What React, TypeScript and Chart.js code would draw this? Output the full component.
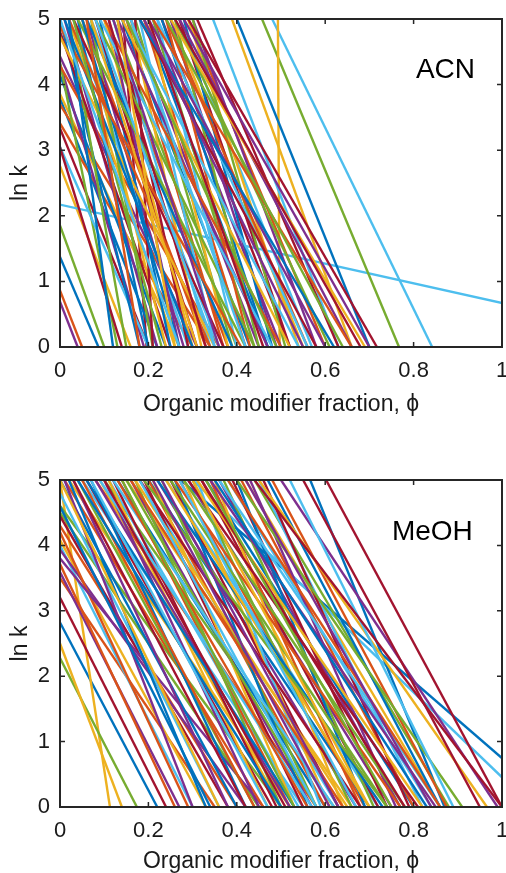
import React, { useEffect, useRef } from "react";
import { Chart, registerables } from "chart.js";

Chart.register(...registerables);

// MATLAB default colour order
const COLORS = ["#0072BD", "#D95319", "#EDB120", "#7E2F8E", "#77AC30", "#4DBEEE", "#A2142F"];

const xTicks = [0, 0.2, 0.4, 0.6, 0.8, 1];
const xTickLabels = ["0", "0.2", "0.4", "0.6", "0.8", "1"];
const yTicks = [0, 1, 2, 3, 4, 5];
const yTickLabels = ["0", "1", "2", "3", "4", "5"];

// ACN: phi where ln k = 5 and phi where ln k = 0 for each retention line
const acnPhiAt5 = [
  -0.23, -0.24, -0.13, -0.25, -0.17, -1.887, 0.143,
  -0.07, -0.14, -0.08, -0.04, 0.457, 0.48, -0.10,
  -0.05, -0.12, 0.493, -0.03, -0.02, -0.128, -0.09,
  0.0, -0.06, 0.02, 0.01, 0.02, 0.03, -0.01,
  0.04, 0.05, 0.05, 0.06, 0.07, 0.07, 0.08,
  0.09, 0.10, 0.10, 0.11, 0.12, 0.12, 0.13,
  0.14, 0.15, 0.16, 0.16, 0.17, 0.18, 0.17,
  0.19, 0.19, 0.20, 0.21, 0.21, 0.22, 0.23,
  0.23, 0.24, 0.25, 0.25, 0.26, 0.27, 0.27,
  0.28, 0.29, 0.29, 0.30, 0.30, 0.346, 0.31,
  0.40, 0.24, 0.389, 0.27, 0.26, 0.22, 0.29,
  0.06, 0.02, -0.02, 0.13, 0.08, 0.15, 0.18,
  0.01, 0.10, 0.14, 0.20, 0.04, 0.09, 0.03,
  0.05, -0.01, 0.07, 0.12, 0.03, 0.16, 0.11,
  0.18, 0.21, 0.25, 0.28, 0.15, 0.08, 0.20,
  0.02, 0.06, 0.13, 0.19, 0.24, 0.00, 0.26,
];
const acnPhiAt0 = [
  0.087, 0.05, 0.16, 0.04, 0.10, 1.447, 0.196,
  0.22, 0.30, 0.27, 0.31, 0.767, 0.842, 0.20,
  0.24, 0.34, 0.497, 0.19, 0.13, 0.20, 0.14,
  0.18, 0.36, 0.26, 0.22, 0.15, 0.29, 0.25,
  0.20, 0.33, 0.24, 0.28, 0.21, 0.36, 0.31,
  0.25, 0.38, 0.30, 0.27, 0.40, 0.34, 0.29,
  0.43, 0.37, 0.32, 0.45, 0.39, 0.35, 0.21,
  0.47, 0.42, 0.38, 0.50, 0.44, 0.40, 0.52,
  0.47, 0.43, 0.55, 0.49, 0.45, 0.57, 0.52,
  0.48, 0.60, 0.54, 0.58, 0.51, 0.63, 0.63,
  0.70, 0.56, 0.66, 0.66, 0.61, 0.56, 0.717,
  0.39, 0.34, 0.35, 0.47, 0.44, 0.54, 0.58,
  0.30, 0.50, 0.52, 0.60, 0.42, 0.48, 0.37,
  0.27, 0.41, 0.31, 0.36, 0.23, 0.42, 0.33,
  0.62, 0.66, 0.69, 0.70, 0.49, 0.35, 0.46,
  0.12, 0.18, 0.26, 0.55, 0.64, 0.27, 0.68,
];

// MeOH
const meohPhiAt5 = [
  -0.17, -0.15, 0.0, -0.106, -0.208, -0.075, -0.135,
  0.273, -0.065, -0.074, -0.114, -0.05, 0.30, -0.047,
  0.566, -0.055, -0.14, -0.145, -0.043, -0.015, 0.602,
  0.0, 0.01, 0.02, 0.03, 0.04, 0.05, 0.06,
  0.07, 0.08, 0.09, 0.10, 0.10, 0.11, 0.12,
  0.13, 0.14, 0.15, 0.16, 0.17, 0.18, 0.19,
  0.20, 0.20, 0.21, 0.22, 0.23, 0.24, 0.25,
  0.26, 0.27, 0.28, 0.29, 0.30, 0.31, 0.32,
  0.33, 0.34, 0.35, 0.36, 0.37, 0.38, 0.39,
  0.40, 0.41, 0.42, 0.43, 0.44, 0.45, 0.46,
  0.47, 0.48, 0.45, 0.50, 0.40, 0.52, 0.44,
  0.02, 0.05, 0.11, 0.08, 0.15, 0.12, 0.18,
  0.22, 0.26, 0.31, 0.34, 0.28, 0.36, 0.55,
  0.04, 0.16, 0.24, 0.01, 0.19, 0.09, 0.29,
  0.06, 0.13, 0.17, 0.21, 0.25, 0.27, 0.32,
  0.35, 0.38, 0.30, 0.23, 0.14, 0.07, 0.03,
  -0.03, -0.09, 0.00, 0.42, 0.33, 0.18, 0.10,
];
const meohPhiAt0 = [
  0.22, 0.35, 0.113, 0.27, 0.174, 0.30, 0.24,
  1.128, 0.40, 0.33, 0.42, 0.45, 1.07, 0.38,
  0.87, 0.29, 0.14, 0.46, 0.50, 0.36, 1.0,
  0.40, 0.46, 0.52, 0.38, 0.44, 0.55, 0.48,
  0.42, 0.58, 0.50, 0.45, 0.62, 0.54, 0.49,
  0.60, 0.52, 0.66, 0.57, 0.50, 0.63, 0.55,
  0.70, 0.60, 0.53, 0.67, 0.58, 0.72, 0.63,
  0.56, 0.69, 0.61, 0.75, 0.66, 0.59, 0.72,
  0.80, 0.68, 0.64, 0.77, 0.71, 0.84, 0.74,
  0.69, 0.80, 0.86, 0.76, 0.88, 0.82, 0.79,
  0.86, 0.875, 0.966, 0.99, 0.91, 0.89, 1.0,
  0.33, 0.44, 0.47, 0.52, 0.58, 0.62, 0.68,
  0.73, 0.77, 0.82, 0.85, 0.78, 0.86, 0.95,
  0.50, 0.64, 0.70, 0.30, 0.74, 0.57, 0.81,
  0.53, 0.56, 0.65, 0.61, 0.74, 0.67, 0.78,
  0.83, 0.86, 0.70, 0.63, 0.53, 0.47, 0.42,
  0.34, 0.26, 0.36, 0.84, 0.75, 0.58, 0.51,
];

const FONT = "'Liberation Sans', Arial, Helvetica, sans-serif";
const INK = "#1a1a1a";

type PanelProps = {
  top: number;
  height: number;
  padTop: number;
  plotBottom: number;
  label: string;
  labelX: number;
  labelY: number;
  phi5: number[];
  phi0: number[];
};

function Panel({ top, height, padTop, plotBottom, label, labelX, labelY, phi5, phi0 }: PanelProps) {
  const ref = useRef<HTMLCanvasElement | null>(null);

  useEffect(() => {
    if (!ref.current) return;
    const xAxisH = height - plotBottom;
    const framePlugin = {
      id: "frame",
      afterDatasetsDraw(chart: any) {
        const { ctx, chartArea, scales } = chart;
        const { left, right, top: t, bottom } = chartArea;
        ctx.save();
        ctx.strokeStyle = "#262626";
        ctx.lineWidth = 1.5;
        const tl = 5;
        ctx.beginPath();
        xTicks.forEach((v) => {
          const px = scales.x.getPixelForValue(v);
          ctx.moveTo(px, bottom);
          ctx.lineTo(px, bottom - tl);
          ctx.moveTo(px, t);
          ctx.lineTo(px, t + tl);
        });
        yTicks.forEach((v) => {
          const py = scales.y.getPixelForValue(v);
          ctx.moveTo(left, py);
          ctx.lineTo(left + tl, py);
          ctx.moveTo(right, py);
          ctx.lineTo(right - tl, py);
        });
        ctx.stroke();
        ctx.lineWidth = 2;
        ctx.strokeRect(left, t, right - left, bottom - t);
        ctx.fillStyle = "#000";
        ctx.font = `28px ${FONT}`;
        ctx.textAlign = "right";
        ctx.textBaseline = "alphabetic";
        ctx.fillText(label, scales.x.getPixelForValue(labelX), scales.y.getPixelForValue(labelY));
        ctx.restore();
      },
    };

    const chart = new Chart(ref.current, {
      type: "line",
      data: {
        datasets: phi5.map((a, i) => ({
          data: [
            { x: a, y: 5 },
            { x: phi0[i], y: 0 },
          ],
          borderColor: COLORS[i % COLORS.length],
          backgroundColor: COLORS[i % COLORS.length],
          borderWidth: 2.4,
          pointRadius: 0,
          fill: false,
          tension: 0,
          clip: 0,
          order: -i,
        })),
      },
      options: {
        animation: false,
        responsive: false,
        maintainAspectRatio: false,
        events: [],
        layout: { padding: { top: padTop, right: 4, left: 0, bottom: 0 } },
        plugins: { legend: { display: false }, tooltip: { enabled: false } },
        scales: {
          x: {
            type: "linear",
            min: 0,
            max: 1,
            afterBuildTicks: (s: any) => {
              s.ticks = xTicks.map((v) => ({ value: v }));
            },
            afterFit: (s: any) => {
              s.height = xAxisH;
              s.paddingLeft = 0;
              s.paddingRight = 0;
            },
            ticks: {
              callback: (_v: any, i: number) => xTickLabels[i],
              font: { family: FONT, size: 22 },
              color: INK,
              padding: 11,
              maxRotation: 0,
              autoSkip: false,
            },
            grid: { display: false, drawTicks: false },
            border: { display: false },
            title: {
              display: true,
              text: "Organic modifier fraction, ϕ",
              font: { family: FONT, size: 23, lineHeight: 1 },
              color: INK,
              padding: 0,
            },
          },
          y: {
            type: "linear",
            min: 0,
            max: 5,
            afterBuildTicks: (s: any) => {
              s.ticks = yTicks.map((v) => ({ value: v }));
            },
            afterFit: (s: any) => {
              s.width = 60;
              s.paddingTop = 0;
              s.paddingBottom = 0;
            },
            ticks: {
              callback: (_v: any, i: number) => yTickLabels[i],
              font: { family: FONT, size: 22 },
              color: INK,
              padding: 10,
              autoSkip: false,
            },
            grid: { display: false, drawTicks: false },
            border: { display: false },
            title: {
              display: true,
              text: "ln k",
              font: { family: FONT, size: 23, lineHeight: 1 },
              color: INK,
              padding: { top: 9, bottom: 0 },
            },
          },
        },
      },
      plugins: [framePlugin],
    } as any);
    return () => chart.destroy();
  }, []);

  return (
    <canvas
      ref={ref}
      width={506}
      height={height}
      style={{ position: "absolute", left: 0, top, width: 506, height }}
    />
  );
}

export default function App() {
  return (
    <div style={{ position: "absolute", left: 0, top: 0, width: 506, height: 873, background: "#fff" }}>
      <Panel
        top={0}
        height={416}
        padTop={19}
        plotBottom={347}
        label="ACN"
        labelX={0.939}
        labelY={4.1}
        phi5={acnPhiAt5}
        phi0={acnPhiAt0}
      />
      <Panel
        top={460}
        height={413}
        padTop={20}
        plotBottom={347}
        label="MeOH"
        labelX={0.934}
        labelY={4.08}
        phi5={meohPhiAt5}
        phi0={meohPhiAt0}
      />
    </div>
  );
}
